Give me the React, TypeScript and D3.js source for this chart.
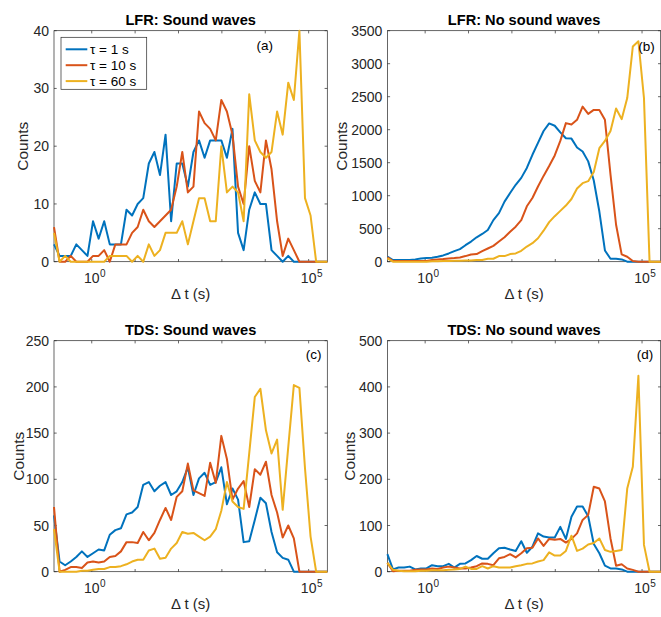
import React from 'react';
import * as d3 from 'd3';

// Histogram bins: 50 log-spaced bin centres (log10 of Δt in seconds)
const N_BINS = 50;
const LOG_MIN = -0.87;
const LOG_MAX = 5.43;
const binCenters = d3.range(N_BINS).map((i) => Math.pow(10, LOG_MIN + (i * (LOG_MAX - LOG_MIN)) / (N_BINS - 1)));

const seriesNames = ['τ = 1 s', 'τ = 10 s', 'τ = 60 s'];
const seriesColors = ['#0072BD', '#D95319', '#EDB120'];

const xTickExponents = [0, 1, 2, 3, 4, 5];
const xTickLabelExponents = [0, 5];

// (a) LFR: Sound waves
const lfrSoundTau1 = [3,1,1,1,3,2,1,7,4,7, 3,3,3,9,8,10,11,17,19,15, 22,7,17,17,13,19,21,18,21,21, 21,18,23,5,2,9,12,10,10,2, 1,0,1,0,0,0,0,0,0,0];
const lfrSoundTau10 = [6,0,0,1,0,0,0,1,1,2, 0,3,3,3,5,6,9,7,6,7, 8,9,13,19,12,13,26,24,23,21, 28,26,22,13,10,20,14,12,21,16, 7,1,4,2,0,0,0,0,0,0];
const lfrSoundTau60 = [5,0,1,0,0,0,0,0,0,0, 1,1,1,1,0,1,0,3,1,2, 5,5,5,7,3,7,11,11,7,7, 20,12,13,12,7,29,21,19,18,19, 26,22,31,28,40,11,8,0,0,0];

// (b) LFR: No sound waves
const lfrNoSoundTau1 = [76,25,25,25,25,35,50,55,60,75, 95,125,160,190,250,305,370,420,480,630, 735,910,1040,1165,1270,1420,1620,1800,1980,2095, 2060,1960,1870,1865,1730,1670,1520,1230,760,170, 45,45,35,0,0,0,0,0,0,0];
const lfrNoSoundTau10 = [65,10,10,10,10,10,10,10,25,35, 40,50,55,65,85,110,115,160,200,240, 305,370,455,530,630,840,965,1140,1300,1450, 1610,1830,2100,2080,2150,2350,2240,2300,2300,2150, 1320,560,110,75,10,0,0,0,0,0];
const lfrNoSoundTau60 = [50,0,0,0,0,0,0,0,5,5, 10,10,15,15,20,20,25,25,45,45, 85,85,115,125,165,230,280,355,470,600, 690,770,850,950,1110,1190,1220,1360,1720,1830, 1980,2320,2160,2480,3260,3340,2480,0,0,0];

// (c) TDS: Sound waves
const tdsSoundTau1 = [61,11,7,11,16,22,16,20,24,23, 40,45,47,62,64,70,94,97,87,93, 97,83,87,97,113,83,101,107,94,97, 113,73,90,78,32,33,56,80,74,43, 21,15,13,0,0,0,0,0,0,0];
const tdsSoundTau10 = [70,0,2,5,5,4,10,11,10,11, 16,17,22,32,32,31,43,34,42,56, 69,56,81,87,117,88,85,82,118,96, 147,122,78,90,98,70,111,105,119,83, 64,37,50,36,0,0,0,0,0,0];
const tdsSoundTau60 = [46,0,0,0,0,1,1,2,3,3, 5,5,6,8,11,13,13,23,25,14, 15,25,31,43,41,42,38,34,38,46, 66,97,76,70,68,128,189,198,153,128, 143,67,135,202,199,112,38,0,0,0];

// (d) TDS: No sound waves
const tdsNoSoundTau1 = [38,5,9,9,11,5,7,7,14,12, 12,17,9,17,18,25,34,28,28,40, 51,52,48,45,66,41,54,83,76,74, 74,97,71,119,141,141,120,60,40,13, 7,7,5,0,0,0,0,0,0,0];
const tdsNoSoundTau10 = [19,1,2,2,2,4,5,5,7,6, 9,11,9,7,7,9,12,18,17,14, 29,32,38,31,40,51,52,72,56,71, 69,71,63,71,83,112,123,184,180,152, 72,13,16,7,4,0,0,0,0,0];
const tdsNoSoundTau60 = [19,4,2,1,1,1,2,2,3,3, 3,4,5,6,11,6,6,12,7,12, 9,9,9,12,14,17,18,22,25,42, 35,35,45,78,45,50,59,62,72,47, 43,45,47,180,227,424,58,0,0,0];

const FONT = '"Liberation Sans", Arial, Helvetica, sans-serif';
const INK = '#262626';

const panels = [
  { title: 'LFR: Sound waves', tag: '(a)', series: [lfrSoundTau1, lfrSoundTau10, lfrSoundTau60], yMax: 40, yStep: 10,
    left: 54, right: 327.3, top: 30.7, bottom: 261.7, tagX: 264.7, tagY: 50, ylabelX: 28.3, legend: true },
  { title: 'LFR: No sound waves', tag: '(b)', series: [lfrNoSoundTau1, lfrNoSoundTau10, lfrNoSoundTau60], yMax: 3500, yStep: 500,
    left: 387.4, right: 660.7, top: 30.7, bottom: 261.7, tagX: 646.5, tagY: 51, ylabelX: 346.7, legend: false },
  { title: 'TDS: Sound waves', tag: '(c)', series: [tdsSoundTau1, tdsSoundTau10, tdsSoundTau60], yMax: 250, yStep: 50,
    left: 54, right: 327.3, top: 340.7, bottom: 571.7, tagX: 313.7, tagY: 359, ylabelX: 24, legend: false },
  { title: 'TDS: No sound waves', tag: '(d)', series: [tdsNoSoundTau1, tdsNoSoundTau10, tdsNoSoundTau60], yMax: 500, yStep: 100,
    left: 387.4, right: 660.7, top: 340.7, bottom: 571.7, tagX: 645, tagY: 359, ylabelX: 355, legend: false },
];

function Panel({ p }: { p: any }) {
  const x = d3.scaleLog().domain([Math.pow(10, LOG_MIN), Math.pow(10, LOG_MAX)]).range([p.left, p.right]);
  const y = d3.scaleLinear().domain([0, p.yMax]).range([p.bottom, p.top]);
  const yTicks = d3.range(0, p.yMax + p.yStep / 2, p.yStep);
  const line = d3.line<number>().x((_, i) => x(binCenters[i])).y((v) => y(v));
  const tl = 2.7;
  const cx = (p.left + p.right) / 2;
  const cy = (p.top + p.bottom) / 2;
  return (
    <g>
      <text x={cx} y={p.top - 5.7} textAnchor="middle" fontWeight="bold" fontSize={14.6} fill="#000" fontFamily={FONT}>{p.title}</text>
      {/* axis box */}
      <rect x={p.left} y={p.top} width={p.right - p.left} height={p.bottom - p.top} fill="white" stroke={INK} strokeWidth={0.7} />
      {yTicks.map((t) => (
        <g key={'y' + t}>
          <line x1={p.left} x2={p.left + tl} y1={y(t)} y2={y(t)} stroke={INK} strokeWidth={0.7} />
          <line x1={p.right} x2={p.right - tl} y1={y(t)} y2={y(t)} stroke={INK} strokeWidth={0.7} />
          <text x={p.left - 5} y={y(t)} dy="0.36em" textAnchor="end" fontSize={14} fill={INK} fontFamily={FONT}>{t}</text>
        </g>
      ))}
      {xTickExponents.map((e) => (
        <g key={'x' + e}>
          <line x1={x(Math.pow(10, e))} x2={x(Math.pow(10, e))} y1={p.bottom} y2={p.bottom - tl} stroke={INK} strokeWidth={0.7} />
          <line x1={x(Math.pow(10, e))} x2={x(Math.pow(10, e))} y1={p.top} y2={p.top + tl} stroke={INK} strokeWidth={0.7} />
        </g>
      ))}
      {xTickLabelExponents.map((e) => (
        <g key={'xl' + e}>
          <text x={x(Math.pow(10, e))} y={p.bottom + 21.5} textAnchor="middle" fontSize={14} fill={INK} fontFamily={FONT}>10</text>
          <text x={x(Math.pow(10, e)) + 8.3} y={p.bottom + 15} textAnchor="start" fontSize={10} fill={INK} fontFamily={FONT}>{e}</text>
        </g>
      ))}
      <text x={cx} y={p.bottom + 37.5} textAnchor="middle" fontSize={15} fill={INK} fontFamily={FONT}>Δ t (s)</text>
      <text transform={`translate(${p.ylabelX},${cy}) rotate(-90)`} textAnchor="middle" fontSize={15.5} fill={INK} fontFamily={FONT}>Counts</text>
      {p.series.map((s: number[], k: number) => (
        <path key={'s' + k} d={line(s) || ''} fill="none" stroke={seriesColors[k]} strokeWidth={2} strokeLinejoin="round" />
      ))}
      <text x={p.tagX} y={p.tagY} textAnchor="middle" fontSize={13.5} fill="#000" fontFamily={FONT}>{p.tag}</text>
      {p.legend && (
        <g>
          <rect x={61} y={37.3} width={85.7} height={52} fill="white" stroke={INK} strokeWidth={0.7} />
          {seriesNames.map((n, k) => (
            <g key={'l' + k}>
              <line x1={65.7} x2={87.3} y1={49.3 + k * 15.9} y2={49.3 + k * 15.9} stroke={seriesColors[k]} strokeWidth={2} />
              <text x={90} y={49.3 + k * 15.9} dy="0.36em" fontSize={13.5} fill="#000" fontFamily={FONT}>{n}</text>
            </g>
          ))}
        </g>
      )}
    </g>
  );
}

export default function App() {
  return (
    <svg width={661} height={617} viewBox="0 0 661 617" style={{ position: 'absolute', left: 0, top: 0, display: 'block', background: 'white' }}>
      <rect x={0} y={0} width={661} height={617} fill="white" />
      {panels.map((p, i) => (
        <Panel key={i} p={p} />
      ))}
    </svg>
  );
}
